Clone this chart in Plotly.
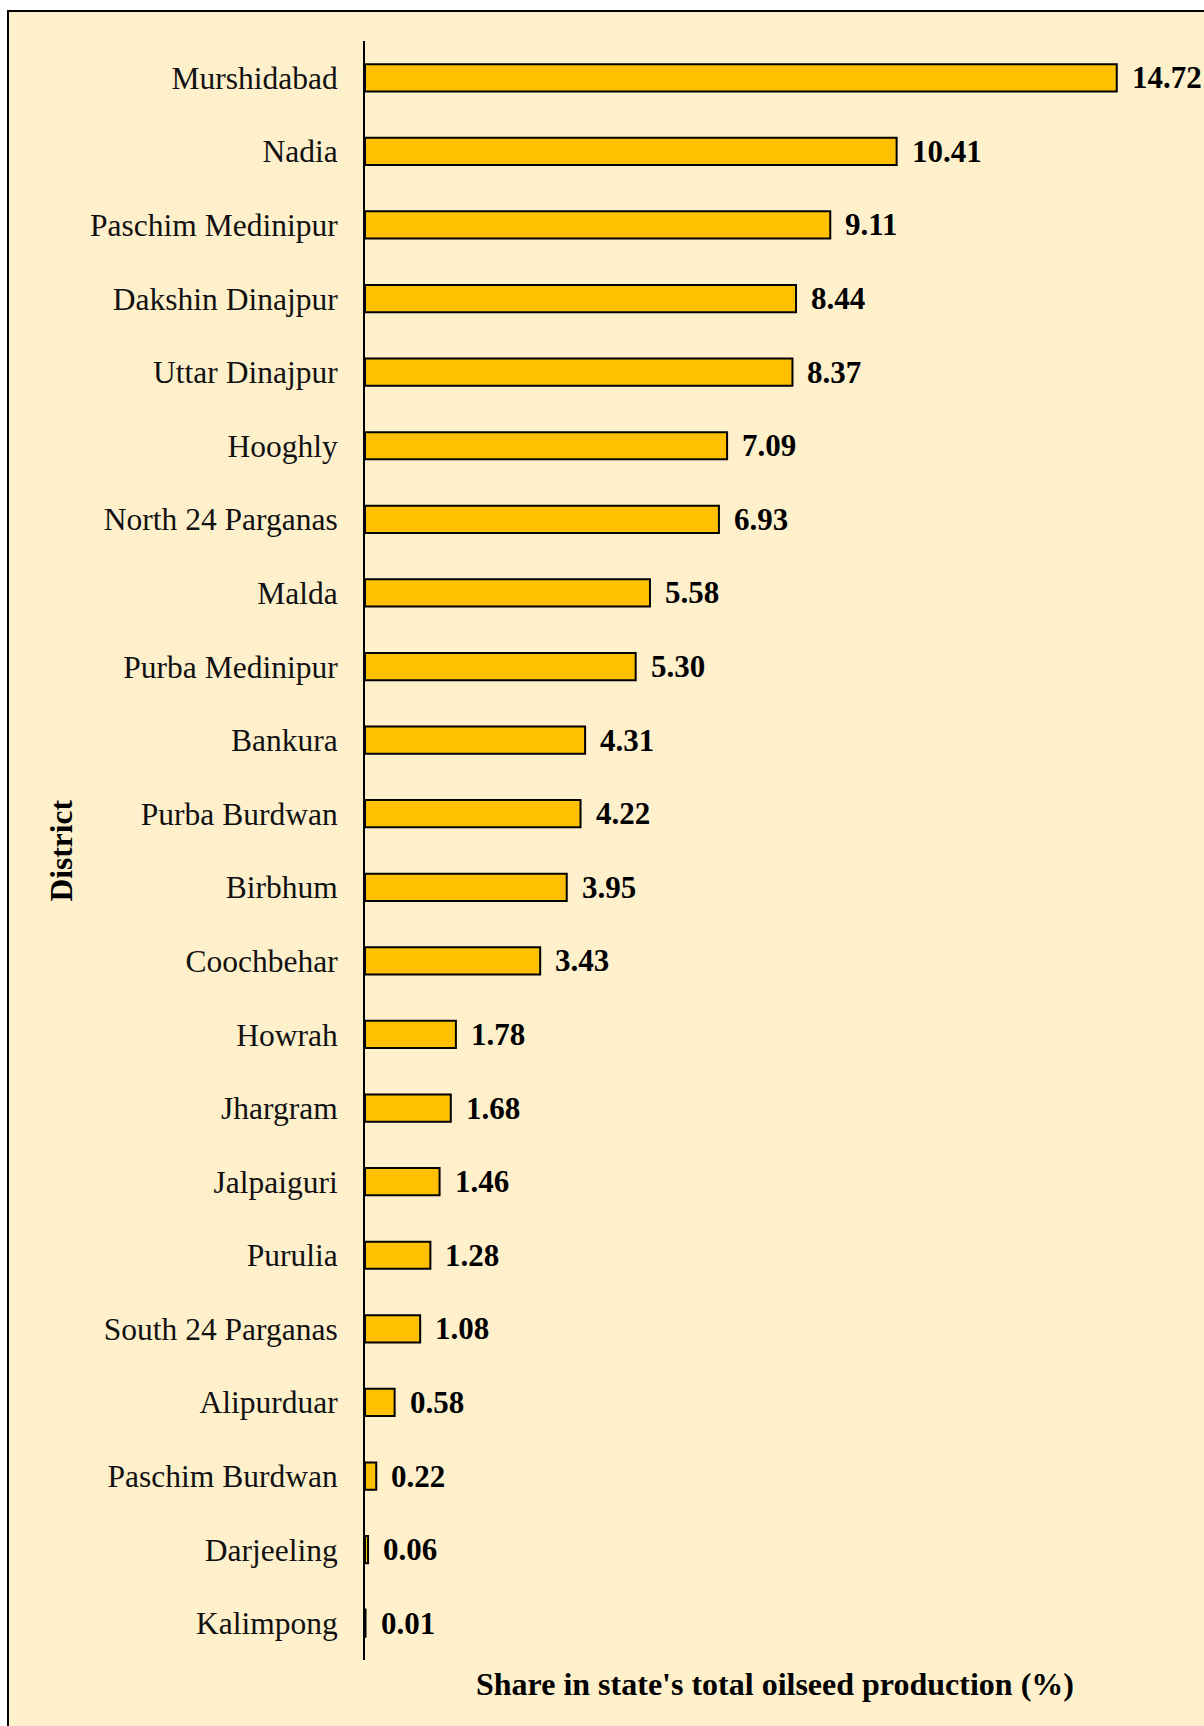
import plotly.graph_objects as go

# District-wise share in the state's total oilseed production (%)
districts = [
    "Murshidabad", "Nadia", "Paschim Medinipur", "Dakshin Dinajpur",
    "Uttar Dinajpur", "Hooghly", "North 24 Parganas", "Malda",
    "Purba Medinipur", "Bankura", "Purba Burdwan", "Birbhum",
    "Coochbehar", "Howrah", "Jhargram", "Jalpaiguri", "Purulia",
    "South 24 Parganas", "Alipurduar", "Paschim Burdwan", "Darjeeling",
    "Kalimpong",
]
shares = [
    14.72, 10.41, 9.11, 8.44, 8.37, 7.09, 6.93, 5.58, 5.30, 4.31, 4.22,
    3.95, 3.43, 1.78, 1.68, 1.46, 1.28, 1.08, 0.58, 0.22, 0.06, 0.01,
]
value_labels = [f"{v:.2f}" for v in shares]

W, H = 1204, 1726
L, R, T, B = 365, 20, 41, 66
SERIF = "Liberation Serif, Times New Roman, serif"

fig = go.Figure(
    go.Bar(
        x=shares,
        y=districts,
        orientation="h",
        width=0.37,
        marker=dict(color="#FFC000", line=dict(color="#000000", width=2)),
        hoverinfo="x+y",
    )
)

# bold value labels just past each bar end
for d, v, lab in zip(districts, shares, value_labels):
    fig.add_annotation(
        x=v, y=d, text=f"<b>{lab}</b>", showarrow=False,
        xanchor="left", yanchor="middle", xshift=13,
        font=dict(family=SERIF, size=31, color="#000000"),
    )

plot_w = W - L - R
plot_h = H - T - B

# x-axis title
fig.add_annotation(
    xref="paper", yref="paper",
    x=0.5, y=-(1684 - (H - B)) / plot_h,
    text="<b>Share in state's total oilseed production (%)</b>",
    showarrow=False, xanchor="center", yanchor="middle",
    font=dict(family=SERIF, size=32, color="#000000"),
)
# y-axis title
fig.add_annotation(
    xref="paper", yref="paper",
    x=(61 - L) / plot_w, y=0.5,
    text="<b>District</b>", textangle=-90,
    showarrow=False, xanchor="center", yanchor="middle",
    font=dict(family=SERIF, size=31.5, color="#000000"),
)

# cream panel with a black frame
fig.add_shape(
    type="rect", xref="paper", yref="paper",
    x0=(8 - L) / plot_w, x1=(W + 20 - L) / plot_w,
    y0=-(H + 20 - (H - B)) / plot_h, y1=1 + (T - 11) / plot_h,
    fillcolor="#FFF0CC", line=dict(color="#000000", width=2),
    layer="below",
)

fig.update_layout(
    width=W, height=H,
    margin=dict(l=L, r=R, t=T, b=B, pad=0),
    paper_bgcolor="#FFFFFF",
    plot_bgcolor="rgba(0,0,0,0)",
    showlegend=False,
    bargap=0.63,
    xaxis=dict(
        range=[0, plot_w / 51.07], visible=False, showgrid=False,
        zeroline=False, fixedrange=True,
    ),
    yaxis=dict(
        categoryorder="array", categoryarray=districts[::-1],
        autorange=False, range=[-0.5, len(districts) - 0.5],
        showline=True, linecolor="#000000", linewidth=2,
        showgrid=False, zeroline=False, ticks="",
        ticklabelstandoff=19,
        tickfont=dict(family=SERIF, size=31.5, color="#111111"),
    ),
)

fig.write_html("out.html")
